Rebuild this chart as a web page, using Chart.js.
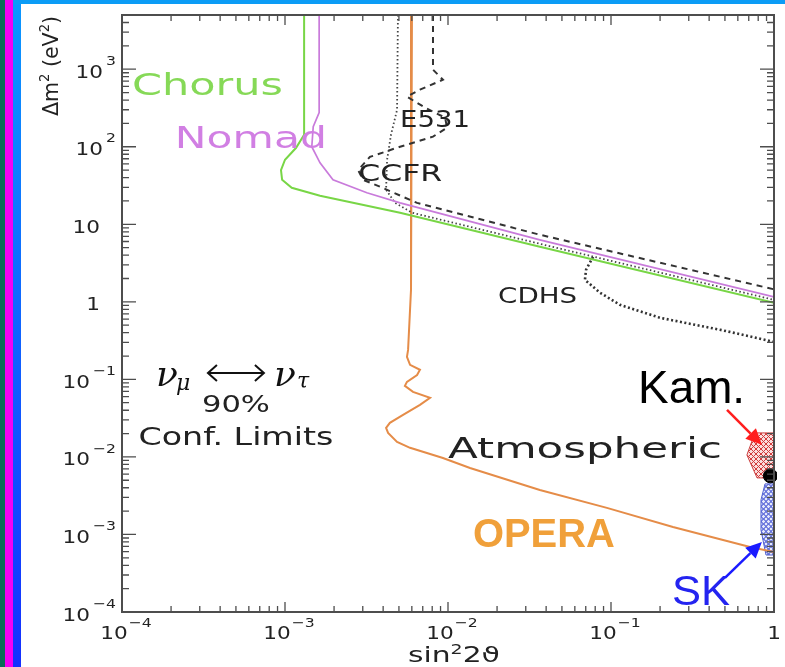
<!DOCTYPE html>
<html lang="en">
<head>
<meta charset="utf-8">
<title>nu_mu - nu_tau oscillation limits</title>
<script src="https://cdn.jsdelivr.net/npm/chart.js@4.4.1/dist/chart.umd.min.js"></script>
<style>
  html, body { margin: 0; padding: 0; }
  body { width: 785px; height: 667px; position: relative; overflow: hidden; background: #fff; }
  .stripe { position: absolute; top: 0; bottom: 0; }
  #s1 { left: 0; width: 5px; background: #0c6b57; }
  #s2 { left: 5px; width: 8px; background: #f400f4; }
  #s3 { left: 13px; width: 8px; background: linear-gradient(#0b98ff, #1430ff); }
  #topband { position: absolute; left: 13px; right: 0; top: 0; height: 4px; background: #0b9cf6; }
  #wrap { position: absolute; left: 21px; top: 4px; width: 764px; height: 663px; background: #fff; }
</style>
</head>
<body>
<div class="stripe" id="s1"></div>
<div class="stripe" id="s2"></div>
<div class="stripe" id="s3"></div>
<div id="topband"></div>
<div id="wrap"><canvas id="chart" width="764" height="663"></canvas></div>
<script>
// Axes (sin²2θ horizontal, Δm² in eV² vertical)
const xMin = 1e-4, xMax = 1
const yMin = 1e-4, yMax = 5000

const xTickValues = [1e-4, 1e-3, 1e-2, 1e-1, 1]
const xTickLabels = ["10^−4", "10^−3", "10^−2", "10^−1", "1"]
const yTickValues = [1e-4, 1e-3, 1e-2, 1e-1, 1, 10, 100, 1000]
const yTickLabels = ["10^−4", "10^−3", "10^−2", "10^−1", "1", "10", "10^2", "10^3"]

// Exclusion curves
const chorusX = [1.31e-3, 1.31e-3, 1.17e-3, 1.0e-3, 9.45e-4, 9.6e-4, 1.1e-3, 1.64e-3, 5.08e-3, 0.0366, 1]
const chorusY = [5000, 143, 97, 68, 50, 37.5, 29.6, 23.3, 14.1, 5.13, 0.97]

const nomadX = [1.62e-3, 1.62e-3, 1.49e-3, 1.46e-3, 1.64e-3, 1.97e-3, 3.18e-3, 5.08e-3, 0.0366, 1]
const nomadY = [5000, 275, 181, 100, 62, 37.5, 25.5, 18.9, 6.3, 1.16]

const e531X = [8.09e-3, 8.09e-3, 9.31e-3, 6.73e-3, 5.6e-3, 7.23e-3, 9.6e-3, 9.86e-3, 8.09e-3, 5.08e-3, 3.32e-3, 2.81e-3, 3.01e-3, 3.83e-3, 5.3e-3, 6.46e-3, 0.0366, 1]
const e531Y = [5000, 985, 732, 544, 442, 319, 237, 176, 135, 100, 74, 50, 37.5, 30.5, 22.6, 18.9, 7.33, 1.45]

const ccfrX = [4.93e-3, 4.87e-3, 4.47e-3, 4.23e-3, 4.17e-3, 4.73e-3, 6.01e-3, 0.0366, 1]
const ccfrY = [5000, 300, 143, 68, 27.9, 18.9, 14.1, 5.6, 1.06]

const cdhsX = [0.0777, 0.0703, 0.0692, 0.0857, 0.1135, 0.2, 0.467, 1]
const cdhsY = [3.81, 2.59, 1.92, 1.31, 0.914, 0.622, 0.436, 0.305]

const operaX = [6.01e-3, 5.93e-3, 5.69e-3, 5.6e-3, 5.85e-3, 6.73e-3, 6.46e-3, 5.6e-3, 5.44e-3, 6.1e-3, 7.76e-3, 6.73e-3, 5.3e-3, 4.4e-3, 4.17e-3, 4.29e-3, 4.87e-3, 5.85e-3, 9.31e-3, 0.01365, 0.0366, 0.0944, 0.24, 0.713, 1]
const operaY = [5000, 1.43, 0.24, 0.195, 0.154, 0.133, 0.114, 0.0929, 0.0824, 0.069, 0.0577, 0.0469, 0.0348, 0.0275, 0.0237, 0.0204, 0.0156, 0.0131, 9.7e-3, 7.21e-3, 3.75e-3, 2.2e-3, 1.25e-3, 6.9e-4, 5.94e-4]

// Allowed regions (atmospheric)
const kamX = [0.764, 1, 1, 0.787, 0.682, 0.764]
const kamY = [0.0204, 0.0204, 5.36e-3, 5.36e-3, 0.0106, 0.0204]
const skX = [0.881, 1, 1, 0.893, 0.832, 0.832, 0.881]
const skY = [4.49e-3, 4.49e-3, 5.43e-4, 5.43e-4, 1.14e-3, 2.79e-3, 4.49e-3]
const kamBestX = [0.95]
const kamBestY = [5.7e-3]

// Annotations, anchored in data units
const textLabels = [
  { text: "Chorus", x: 1.15e-4, y: 469, w: 151, font: '31px "DejaVu Sans"', color: "#86d957" },
  { text: "Nomad", x: 2.11e-4, y: 97, w: 152, font: '31px "DejaVu Sans"', color: "#d17fe3" },
  { text: "E531", x: 5.08e-3, y: 181, w: 70, font: '23px "DejaVu Sans"', color: "#222" },
  { text: "CCFR", x: 2.81e-3, y: 36.4, w: 84, font: '23px "DejaVu Sans"', color: "#222" },
  { text: "CDHS", x: 0.0203, y: 0.97, w: 79, font: '21px "DejaVu Sans"', color: "#222" },
  { text: "Atmospheric", x: 0.01, y: 9.7e-3, w: 274, font: '29px "DejaVu Sans"', color: "#222" },
  { text: "Kam.", x: 0.1466, y: 0.0498, w: 107, font: '46px "Liberation Sans"', color: "#000" },
  { text: "SK", x: 0.2366, y: 1.23e-4, w: 58, font: '42px "Liberation Sans"', color: "#2424f0" },
  { text: "OPERA", x: 0.01422, y: 6.9e-4, w: 142, font: 'bold 40px "Liberation Sans"', color: "#f0a03a" },
  { text: "90%", x: 5e-4, y: 0.0381, w: 68, font: '23px "DejaVu Sans"', color: "#222", center: true },
  { text: "Conf. Limits", x: 5e-4, y: 0.0143, w: 195, font: '25px "DejaVu Sans"', color: "#222", center: true },
]
const nuLabelAt = { x: 5e-4, y: 0.0824 }
const arrows = [
  { x0: 0.515, y0: 0.0404, x1: 0.843, y1: 0.0143, color: "#ff1e1e" },
  { x0: 0.5, y0: 2.75e-4, x1: 0.843, y1: 8.0e-4, color: "#1a1aff" },
]

function pts(xs, ys) {
  return xs.map((v, i) => ({ x: v, y: ys[i] }))
}

function logTicks(min, max) {
  const ticks = []
  for (let e = Math.floor(Math.log10(min)); e <= Math.ceil(Math.log10(max)); e++) {
    for (let m = 1; m <= 9; m++) {
      const v = m * Math.pow(10, e)
      if (v >= min * 0.999 && v <= max * 1.001) ticks.push({ value: v, major: m === 1 })
    }
  }
  return ticks
}

function makeHatch(color, kind, tint) {
  const c = document.createElement("canvas")
  c.width = 5
  c.height = 5
  const g = c.getContext("2d")
  if (tint) {
    g.fillStyle = tint
    g.fillRect(0, 0, 5, 5)
  }
  g.strokeStyle = color
  g.lineWidth = 1
  if (kind === "grid") {
    g.beginPath()
    g.moveTo(0, 5); g.lineTo(5, 0)
    g.moveTo(0, 0); g.lineTo(5, 5)
    g.stroke()
  } else {
    g.beginPath()
    g.arc(2.5, 2.5, 2, 0, Math.PI * 2)
    g.stroke()
  }
  return g.createPattern(c, "repeat")
}

// Text helpers
function drawFitted(ctx, text, x, y, width, font, color, center) {
  ctx.save()
  ctx.font = font
  ctx.fillStyle = color
  ctx.textAlign = "left"
  ctx.textBaseline = "alphabetic"
  const w = ctx.measureText(text).width
  const sx = width ? width / w : 1
  ctx.translate(center ? x - width / 2 : x, y)
  ctx.scale(sx, 1)
  ctx.fillText(text, 0, 0)
  ctx.restore()
}

const TICK_SX = 1.2
const baseFont = '18px "DejaVu Sans"'
const supFont = '13px "DejaVu Sans"'
function textW(ctx, t, font) {
  ctx.font = font
  return ctx.measureText(t).width * TICK_SX
}
function putText(ctx, t, font, left, base) {
  ctx.save()
  ctx.font = font
  ctx.translate(left, base)
  ctx.scale(TICK_SX, 1)
  ctx.fillText(t, 0, 0)
  ctx.restore()
}

function drawPieces(ctx, pieces, width) {
  // pieces drawn left to right on baseline 0, scaled and centred
  let total = 0
  pieces.forEach(p => { ctx.font = p.font; p.w = ctx.measureText(p.t).width; total += p.w })
  const sx = width / total
  ctx.save()
  ctx.scale(sx, 1)
  let cx = -total / 2
  pieces.forEach(p => {
    ctx.font = p.font
    ctx.fillText(p.t, cx, -(p.rise || 0))
    cx += p.w
  })
  ctx.restore()
}

const axisDecor = {
  id: "axisDecor",
  afterDraw(chart) {
    const { ctx, chartArea: a, scales: { x, y } } = chart
    ctx.save()
    ctx.strokeStyle = "#4d4d4d"
    ctx.lineWidth = 1.3
    ctx.beginPath()
    x.ticks.forEach(t => {
      const p = x.getPixelForValue(t.value)
      const L = t.major ? 10 : 6
      ctx.moveTo(p, a.bottom); ctx.lineTo(p, a.bottom - L)
      ctx.moveTo(p, a.top); ctx.lineTo(p, a.top + L)
    })
    y.ticks.forEach(t => {
      const p = y.getPixelForValue(t.value)
      const L = t.major ? 14 : 7
      ctx.moveTo(a.left, p); ctx.lineTo(a.left + L, p)
      ctx.moveTo(a.right, p); ctx.lineTo(a.right - L, p)
    })
    ctx.stroke()
    ctx.lineWidth = 2
    ctx.strokeRect(a.left, a.top, a.right - a.left, a.bottom - a.top)

    // tick labels
    ctx.fillStyle = "#222"
    ctx.textAlign = "left"
    ctx.textBaseline = "alphabetic"
    xTickValues.forEach((v, i) => {
      const [base, sup] = xTickLabels[i].split("^")
      const p = x.getPixelForValue(v)
      const wb = textW(ctx, base, baseFont)
      const baseY = a.bottom + 20 + 0.365 * 18
      if (sup) {
        const left = p - 8 - wb / 2
        putText(ctx, base, baseFont, left, baseY)
        putText(ctx, sup, supFont, left + wb + 1, a.bottom + 10 + 0.365 * 13)
      } else {
        putText(ctx, base, baseFont, p - wb / 2, baseY)
      }
    })
    yTickValues.forEach((v, i) => {
      const [base, sup] = yTickLabels[i].split("^")
      const p = y.getPixelForValue(v)
      const wb = textW(ctx, base, baseFont)
      const baseY = p + 2 + 0.365 * 18
      if (sup) {
        const ws = textW(ctx, sup, supFont)
        const supLeft = a.left - 6 - ws
        putText(ctx, sup, supFont, supLeft, p - 9 + 0.365 * 13)
        putText(ctx, base, baseFont, supLeft - 3 - wb, baseY)
      } else {
        putText(ctx, base, baseFont, a.left - 22 - wb, baseY)
      }
    })

    // axis titles
    ctx.save()
    ctx.translate(a.left - 64, a.top + 51)
    ctx.rotate(-Math.PI / 2)
    drawPieces(ctx, [
      { t: "Δm", font: '22px "DejaVu Sans"' },
      { t: "2", font: '14px "DejaVu Sans"', rise: 9 },
      { t: " (eV", font: '22px "DejaVu Sans"' },
      { t: "2", font: '14px "DejaVu Sans"', rise: 9 },
      { t: ")", font: '22px "DejaVu Sans"' },
    ], 100)
    ctx.restore()
    ctx.save()
    ctx.translate(a.left + 332, a.bottom + 50)
    drawPieces(ctx, [
      { t: "sin", font: '22px "DejaVu Sans"' },
      { t: "2", font: '14px "DejaVu Sans"', rise: 8 },
      { t: "2ϑ", font: '22px "DejaVu Sans"' },
    ], 92)
    ctx.restore()
    ctx.restore()
  },
}

const annotations = {
  id: "annotations",
  afterDatasetsDraw(chart) {
    const { ctx, scales: { x, y } } = chart
    ctx.save()
    textLabels.forEach(l => {
      drawFitted(ctx, l.text, x.getPixelForValue(l.x), y.getPixelForValue(l.y), l.w, l.font, l.color, l.center)
    })

    // νμ <-> ντ
    const cx = x.getPixelForValue(nuLabelAt.x)
    const by = y.getPixelForValue(nuLabelAt.y)
    ctx.fillStyle = "#111"
    ctx.textAlign = "left"
    ctx.textBaseline = "alphabetic"
    ctx.font = 'italic 36px "DejaVu Serif"'
    ctx.fillText("ν", cx - 80, by)
    ctx.fillText("ν", cx + 38, by)
    ctx.font = 'italic 22px "DejaVu Serif"'
    ctx.fillText("μ", cx - 60, by + 4)
    ctx.fillText("τ", cx + 61, by + 2)
    ctx.strokeStyle = "#111"
    ctx.lineWidth = 2
    const ay = by - 13
    ctx.beginPath()
    ctx.moveTo(cx - 28, ay); ctx.lineTo(cx + 28, ay)
    ctx.moveTo(cx - 19, ay - 8); ctx.lineTo(cx - 28, ay); ctx.lineTo(cx - 19, ay + 8)
    ctx.moveTo(cx + 19, ay - 8); ctx.lineTo(cx + 28, ay); ctx.lineTo(cx + 19, ay + 8)
    ctx.stroke()

    arrows.forEach(ar => {
      const x0 = x.getPixelForValue(ar.x0), y0 = y.getPixelForValue(ar.y0)
      const x1 = x.getPixelForValue(ar.x1), y1 = y.getPixelForValue(ar.y1)
      const ang = Math.atan2(y1 - y0, x1 - x0)
      const head = 16, half = 7.5
      const hx = x1 - head * Math.cos(ang), hy = y1 - head * Math.sin(ang)
      ctx.strokeStyle = ar.color
      ctx.fillStyle = ar.color
      ctx.lineWidth = 2.5
      ctx.beginPath()
      ctx.moveTo(x0, y0); ctx.lineTo(hx, hy)
      ctx.stroke()
      ctx.beginPath()
      ctx.moveTo(x1, y1)
      ctx.lineTo(hx + half * Math.sin(ang), hy - half * Math.cos(ang))
      ctx.lineTo(hx - half * Math.sin(ang), hy + half * Math.cos(ang))
      ctx.closePath()
      ctx.fill()
    })
    ctx.restore()
  },
}

const lineDefaults = { showLine: true, pointRadius: 0, fill: false, tension: 0 }

new Chart(document.getElementById("chart"), {
  type: "scatter",
  data: {
    datasets: [
      { ...lineDefaults, label: "Chorus", data: pts(chorusX, chorusY), borderColor: "#78d646", borderWidth: 2 },
      { ...lineDefaults, label: "Nomad", data: pts(nomadX, nomadY), borderColor: "#c97bdb", borderWidth: 1.7 },
      { ...lineDefaults, label: "E531", data: pts(e531X, e531Y), borderColor: "#333", borderWidth: 2, borderDash: [6, 5] },
      { ...lineDefaults, label: "CCFR", data: pts(ccfrX, ccfrY), borderColor: "#444", borderWidth: 1.8, borderDash: [1.5, 2.5] },
      { ...lineDefaults, label: "CDHS", data: pts(cdhsX, cdhsY), borderColor: "#333", borderWidth: 2.6, borderDash: [2, 2.5] },
      { ...lineDefaults, label: "OPERA", data: pts(operaX, operaY), borderColor: "#e58c48", borderWidth: 2 },
      { ...lineDefaults, label: "Kamiokande", data: pts(kamX, kamY), fill: "shape", backgroundColor: makeHatch("#d23c3c", "grid", "rgba(240,160,160,0.35)"), borderColor: "#cc4444", borderWidth: 1 },
      { ...lineDefaults, label: "Super-K", data: pts(skX, skY), fill: "shape", backgroundColor: makeHatch("#3f50d2", "ring", "rgba(170,180,240,0.3)"), borderColor: "#5060d0", borderWidth: 1 },
      { label: "Kam. best fit", data: pts(kamBestX, kamBestY), showLine: false, pointRadius: 7, pointBackgroundColor: "#000", pointBorderColor: "#000", clip: 3, order: -1 },
    ],
  },
  options: {
    responsive: false,
    devicePixelRatio: 1,
    animation: false,
    layout: { padding: { left: 101, top: 11, right: 11, bottom: 55 } },
    plugins: { legend: { display: false }, tooltip: { enabled: false } },
    scales: {
      x: {
        type: "logarithmic", min: xMin, max: xMax,
        grid: { display: false, drawTicks: false }, border: { display: false }, ticks: { display: false },
        afterBuildTicks: axis => { axis.ticks = logTicks(xMin, xMax) },
      },
      y: {
        type: "logarithmic", min: yMin, max: yMax,
        grid: { display: false, drawTicks: false }, border: { display: false }, ticks: { display: false },
        afterBuildTicks: axis => { axis.ticks = logTicks(yMin, yMax) },
      },
    },
  },
  plugins: [annotations, axisDecor],
})
</script>
</body>
</html>
